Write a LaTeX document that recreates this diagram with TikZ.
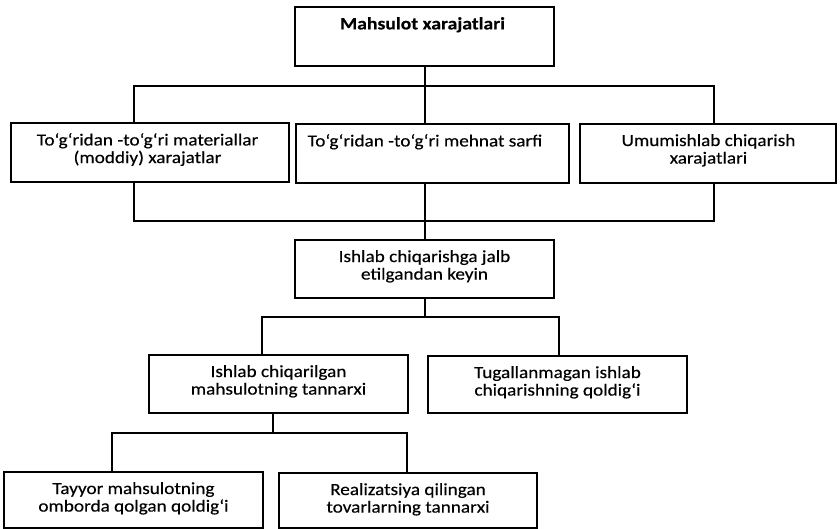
\documentclass[tikz,border=0pt]{standalone}
\usepackage{fontspec}
\setmainfont{Carlito}[FakeStretch=1.13, FakeBold=0.35]
\begin{document}
\begin{tikzpicture}[x=1pt,y=-1pt,
  box/.style={draw, line width=1.1pt, inner sep=0pt, minimum width=#1},
  lbl/.style={anchor=north, inner sep=0pt, align=center, font=\fontsize{17}{17.6}\selectfont},
  conn/.style={line width=1.1pt}]
\useasboundingbox (0,0) rectangle (840,529);
% boxes
\node[box=259pt, minimum height=59pt] (top) at (424.5,36.5) {};
\node[box=278pt, minimum height=59pt] (b1) at (150,152.5) {};
\node[box=273pt, minimum height=59pt] (b2) at (432.5,153.5) {};
\node[box=256pt, minimum height=59pt] (b3) at (708,153.5) {};
\node[box=259pt, minimum height=58pt] (r3) at (424.5,269) {};
\node[box=259pt, minimum height=58pt] (a4) at (278.5,384) {};
\node[box=259pt, minimum height=57pt] (b4) at (557.5,384.5) {};
\node[box=259pt, minimum height=56pt] (a5) at (133.5,500) {};
\node[box=258pt, minimum height=55pt] (b5) at (408,500.5) {};
% texts
\node[lbl, font=\fontsize{17.4}{17.6}\selectfont\bfseries] (topt) at (422.5,17) {Mahsulot xarajatlari};
\node[lbl] (b1t) at (147.5,133) {To‘g‘ridan -to‘g‘ri materiallar\\(moddiy) xarajatlar};
\node[lbl] (b2t) at (425,134) {To‘g‘ridan -to‘g‘ri mehnat sarfi};
\node[lbl] (b3t) at (708.5,134) {Umumishlab chiqarish\\xarajatlari};
\node[lbl] (r3t) at (424.5,250) {Ishlab chiqarishga jalb\\etilgandan keyin};
\node[lbl] (a4t) at (278.5,365) {Ishlab chiqarilgan\\mahsulotning tannarxi};
\node[lbl] (b4t) at (557.5,366) {Tugallanmagan ishlab\\chiqarishning qoldig‘i};
\node[lbl] (a5t) at (133.5,482) {Tayyor mahsulotning\\omborda qolgan qoldig‘i};
\node[lbl] (b5t) at (408,483) {Realizatsiya qilingan\\tovarlarning tannarxi};
% junction coordinates
\coordinate (bar1L) at (134,86);
\coordinate (bar1R) at (714,86);
\coordinate (m1) at (425,86);
\coordinate (bar2L) at (134,221);
\coordinate (bar2R) at (714,221);
\coordinate (m2) at (425,221);
\coordinate (bar3L) at (262,317);
\coordinate (bar3R) at (559,317);
\coordinate (m3) at (425,317);
\coordinate (bar4L) at (112,433);
\coordinate (bar4R) at (407,433);
\coordinate (m4) at (273,433);
% connectors
\draw[conn] (m1 |- top.south) -- (m1);
\draw[conn] (bar1L |- b1.north) -- (bar1L) -- (bar1R) -- (bar1R |- b3.north);
\draw[conn] (m1) -- (m1 |- b2.north);
\draw[conn] (bar2L |- b1.south) -- (bar2L) -- (bar2R) -- (bar2R |- b3.south);
\draw[conn] (m2 |- b2.south) -- (m2 |- r3.north);
\draw[conn] (m3 |- r3.south) -- (m3);
\draw[conn] (bar3L |- a4.north) -- (bar3L) -- (bar3R) -- (bar3R |- b4.north);
\draw[conn] (m4 |- a4.south) -- (m4);
\draw[conn] (bar4L |- a5.north) -- (bar4L) -- (bar4R) -- (bar4R |- b5.north);
\end{tikzpicture}
\end{document}
